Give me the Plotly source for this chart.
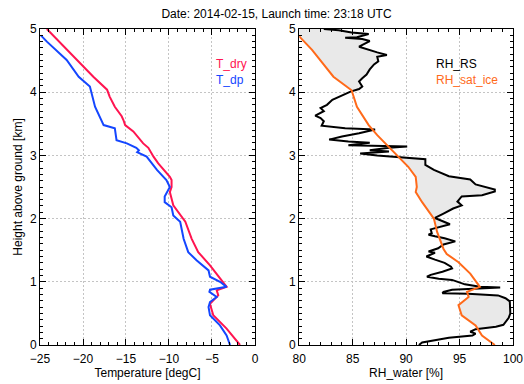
import numpy as np
import plotly.graph_objects as go

# ---- Radiosonde profile: temperature panel ----
h_dry = [0.0, 0.26, 0.47, 0.65, 0.786, 0.866, 0.92, 1.26, 1.47, 1.68, 1.95, 2.21, 2.42,
         2.5, 2.61, 2.66, 2.875, 2.98, 3.12, 3.19, 3.38, 3.48, 3.56, 3.62, 3.77, 3.93,
         4.04, 4.2, 4.245, 5.0]
t_dry = [-1.74, -3.3, -4.85, -5.23, -4.27, -4.45, -3.3, -5.23, -6.6, -7.36, -8.1, -9.5, -9.9,
         -9.7, -9.7, -9.9, -11.25, -11.8, -12.4, -13.0, -14.15, -15.1, -15.3, -15.5, -16.3, -16.9,
         -17.2, -18.4, -18.8, -24.2]

h_dp = [0.0, 0.15, 0.31, 0.47, 0.6, 0.68, 0.76, 0.84, 0.875, 0.92, 1.0, 1.08, 1.18, 1.34,
        1.47, 1.68, 1.95, 2.05, 2.18, 2.26, 2.35, 2.42, 2.5, 2.61, 2.77, 2.98, 3.02, 3.05,
        3.08, 3.12, 3.19, 3.24, 3.43, 3.48, 3.77, 4.09, 4.245, 4.51, 4.8, 4.9]
t_dp = [-2.9, -3.3, -4.07, -5.23, -5.4, -5.23, -4.45, -5.3, -5.23, -3.3, -4.07, -5.23, -5.4, -6.8,
        -7.76, -8.3, -8.7, -9.5, -9.7, -10.5, -10.5, -10.2, -9.9, -10.3, -11.4, -12.6, -13.2, -13.7,
        -13.5, -13.8, -14.9, -16.1, -16.3, -17.6, -18.6, -19.2, -20.5, -21.9, -24.2, -24.9]

# ---- Humidity panel ----
h_rs = [5.0, 4.98, 4.945, 4.935, 4.92, 4.87, 4.86, 4.84, 4.81, 4.72, 4.67, 4.63, 4.59, 4.56,
        4.49, 4.44, 4.36, 4.28, 4.22, 4.17, 4.09, 4.05, 4.01, 3.93, 3.88, 3.80, 3.75, 3.70,
        3.63, 3.59, 3.54, 3.47, 3.43, 3.41, 3.35, 3.30, 3.25, 3.22, 3.20, 3.16, 3.15, 3.14,
        3.12, 3.08, 3.06, 3.03, 3.00, 2.98, 2.94, 2.85, 2.77, 2.67, 2.62, 2.54, 2.46, 2.43,
        2.37, 2.35, 2.27, 2.21, 2.16, 2.08, 2.01, 1.91, 1.86, 1.83, 1.77, 1.745, 1.72, 1.69,
        1.64, 1.59, 1.53, 1.48, 1.46, 1.40, 1.35, 1.30, 1.24, 1.21, 1.16, 1.11, 1.08, 1.05,
        1.03, 0.96, 0.92, 0.91, 0.875, 0.84, 0.82, 0.81, 0.785, 0.74, 0.69, 0.61, 0.50, 0.43,
        0.32, 0.29, 0.25, 0.21, 0.18, 0.15, 0.115, 0.04, 0.0]
rh_rs = [82.3, 83.7, 84.9, 85.9, 86.5, 85.4, 84.3, 85.9, 86.6, 85.6, 86.5, 87.3, 88.2, 87.3,
         87.4, 87.0, 86.6, 86.3, 85.9, 85.6, 85.9, 85.6, 84.8, 83.7, 83.1, 82.6, 82.0, 82.3,
         81.5, 82.0, 82.3, 82.1, 84.3, 87.1, 85.6, 84.0, 82.8, 84.6, 86.6, 84.6, 86.8, 90.1,
         88.4, 86.6, 88.4, 85.7, 87.3, 89.0, 91.8, 91.8, 92.6, 94.0, 96.0, 96.5, 98.3, 98.3,
         97.1, 95.2, 94.8, 95.2, 94.4, 93.5, 92.7, 94.1, 93.0, 92.3, 92.4, 92.1, 92.7, 93.6,
         94.6, 93.5, 93.0, 92.1, 92.7, 91.9, 92.7, 93.6, 94.2, 94.3, 93.4, 92.3, 91.95, 93.05,
         94.3, 95.5, 96.9, 98.8, 94.3, 93.5, 93.4, 95.8, 98.6, 99.3, 99.7, 99.75, 99.75, 99.6,
         99.1, 98.4, 96.5, 96.0, 96.5, 96.2, 94.0, 91.5, 91.2]

h_ice = [0.0, 0.15, 0.31, 0.47, 0.63, 0.76, 0.84, 0.92, 1.13, 1.31, 1.44, 1.52, 1.79, 2.0,
         2.26, 2.42, 2.5, 2.66, 2.82, 2.98, 3.14, 3.32, 3.48, 3.77, 4.03, 4.245, 4.67, 4.92]
rh_ice = [98.3, 97.1, 96.5, 95.2, 94.9, 95.85, 95.7, 96.9, 96.0, 94.9, 93.8, 93.5, 92.9, 92.6,
          91.5, 90.9, 91.0, 90.9, 90.2, 89.3, 88.4, 87.3, 86.5, 85.4, 84.9, 83.2, 81.2, 79.8]

RED = "#ff1450"
BLUE = "#1446ff"
ORANGE = "#ff6a1a"
FONT = "Liberation Sans, Arial, sans-serif"

fig = go.Figure()

# Shaded region: ice-supersaturated layers (RH_RS above RH_sat_ice)
hs = np.array(h_rs)[::-1]
rs = np.array(rh_rs)[::-1]
grid = np.unique(np.concatenate([hs, h_ice, np.linspace(0, max(h_ice), 3000)]))
grid = grid[grid <= max(h_ice)]
rs_g = np.interp(grid, hs, rs)
ice_g = np.interp(grid, h_ice, rh_ice)
upper = np.maximum(rs_g, ice_g)
fig.add_trace(go.Scatter(
    x=np.concatenate([upper, ice_g[::-1]]), y=np.concatenate([grid, grid[::-1]]),
    mode="lines", fill="toself", fillcolor="#e9e9e9", line=dict(width=0),
    xaxis="x2", yaxis="y2", hoverinfo="skip", showlegend=False))
# above the top of the ice curve, shade to the panel edge
top = grid[-1]
mask = hs >= top
fig.add_trace(go.Scatter(
    x=np.concatenate([[79.5], rs[mask], [79.5]]), y=np.concatenate([[top], hs[mask], [5.0]]),
    mode="lines", fill="toself", fillcolor="#e9e9e9", line=dict(width=0),
    xaxis="x2", yaxis="y2", hoverinfo="skip", showlegend=False))

fig.add_trace(go.Scatter(x=t_dry, y=h_dry, mode="lines", line=dict(color=RED, width=2),
                         xaxis="x", yaxis="y", showlegend=False))
fig.add_trace(go.Scatter(x=t_dp, y=h_dp, mode="lines", line=dict(color=BLUE, width=2),
                         xaxis="x", yaxis="y", showlegend=False))
fig.add_trace(go.Scatter(x=rh_rs, y=h_rs, mode="lines", line=dict(color="black", width=2),
                         xaxis="x2", yaxis="y2", showlegend=False))
fig.add_trace(go.Scatter(x=rh_ice, y=h_ice, mode="lines", line=dict(color=ORANGE, width=2),
                         xaxis="x2", yaxis="y2", showlegend=False))

axis_common = dict(
    showline=True, linecolor="black", linewidth=1, mirror="allticks",
    ticks="inside", ticklen=6, tickcolor="black", tickwidth=1,
    showgrid=True, gridcolor="#c4c4c4", griddash="2px,2px", gridwidth=1,
    zeroline=False, automargin=False,
    tickfont=dict(size=12, color="black", family=FONT),
)
minor_x = dict(dtick=1, ticks="inside", ticklen=3, tickcolor="black", showgrid=False)
minor_y = dict(dtick=0.1, ticks="inside", ticklen=3, tickcolor="black", showgrid=False)

fig.update_layout(
    width=524, height=384,
    margin=dict(l=40, r=11, t=29, b=39),
    paper_bgcolor="white", plot_bgcolor="white",
    font=dict(family=FONT, size=12, color="black"),
    title=dict(text="Date: 2014-02-15, Launch time: 23:18 UTC", x=0.5, xref="paper",
               y=1 - 14 / 384, yref="container", yanchor="middle", xanchor="center",
               font=dict(size=12, family=FONT, color="black")),
    xaxis=dict(domain=[0, 0.4545], range=[-25, 0], tickvals=[-25, -20, -15, -10, -5, 0],
               minor=minor_x, ticklabelstandoff=3,
               title=dict(text="Temperature [degC]", standoff=2, font=dict(size=12)),
               anchor="y", **axis_common),
    yaxis=dict(domain=[0, 1], range=[0, 5], tickvals=[0, 1, 2, 3, 4, 5],
               minor=minor_y,
               title=dict(text="Height above ground [km]", standoff=4, font=dict(size=12)),
               anchor="x", **axis_common),
    xaxis2=dict(domain=[0.548, 1], range=[80, 100], tickvals=[80, 85, 90, 95, 100],
                minor=minor_x, ticklabelstandoff=3,
                title=dict(text="RH_water [%]", standoff=2, font=dict(size=12)),
                anchor="y2", **axis_common),
    yaxis2=dict(domain=[0, 1], range=[0, 5], tickvals=[0, 1, 2, 3, 4, 5],
                minor=minor_y, anchor="x2", **axis_common),
)

# in-panel labels for each profile
for txt, col, yy in [("T_dry", RED, 0.89), ("T_dp", BLUE, 0.838)]:
    fig.add_annotation(text=txt, xref="x domain", yref="y domain", x=0.808, y=yy,
                       xanchor="left", yanchor="middle", showarrow=False,
                       font=dict(size=12, color=col, family=FONT))
for txt, col, yy in [("RH_RS", "black", 0.89), ("RH_sat_ice", ORANGE, 0.838)]:
    fig.add_annotation(text=txt, xref="x2 domain", yref="y2 domain", x=0.63, y=yy,
                       xanchor="left", yanchor="middle", showarrow=False,
                       font=dict(size=12, color=col, family=FONT))

fig.write_html("out.html")
